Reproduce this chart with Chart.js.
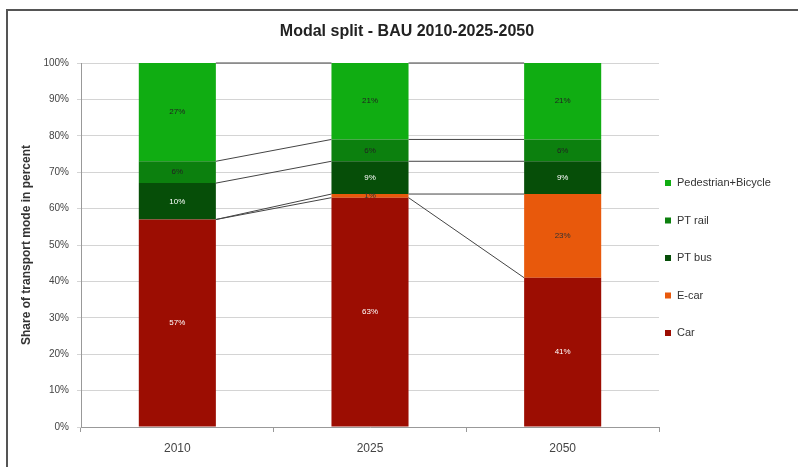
<!DOCTYPE html>
<html>
<head>
<meta charset="utf-8">
<script src="https://cdn.jsdelivr.net/npm/chart.js@4.4.1/dist/chart.umd.min.js"></script>
<style>
  html, body { margin: 0; padding: 0; background: #fff; }
  #wrap { width: 798px; height: 467px; position: relative; }
</style>
</head>
<body>
<div id="wrap"><canvas id="chart" width="798" height="467"></canvas></div>
<script>
// Data
const years = ["2010", "2025", "2050"];
const car = [57, 63, 41];
const eCar = [0, 1, 23];
const ptBus = [10, 9, 9];
const ptRail = [6, 6, 6];
const pedBike = [27, 21, 21];
const yTicks = [0, 10, 20, 30, 40, 50, 60, 70, 80, 90, 100];

const seriesNames = ["Car", "E-car", "PT bus", "PT rail", "Pedestrian+Bicycle"];
const seriesColors = ["#9c0d02", "#e8590c", "#064e08", "#0c800e", "#10ad12"];
const labelColors = ["#fff", "#333", "#fff", "#222", "#222"];

// Excel-style series lines between the stacked segments
const seriesLines = {
  id: "seriesLines",
  afterDatasetsDraw(chart) {
    const ctx = chart.ctx;
    ctx.save();
    ctx.strokeStyle = "#444";
    ctx.lineWidth = 1;
    chart.data.datasets.forEach((ds, i) => {
      const bars = chart.getDatasetMeta(i).data;
      for (let j = 0; j < bars.length - 1; j++) {
        const a = bars[j], b = bars[j + 1];
        ctx.beginPath();
        ctx.moveTo(a.x + a.width / 2, a.y);
        ctx.lineTo(b.x - b.width / 2, b.y);
        ctx.stroke();
      }
    });
    ctx.restore();
  }
};

// value labels inside the segments
const valueLabels = {
  id: "valueLabels",
  afterDatasetsDraw(chart) {
    const ctx = chart.ctx;
    ctx.save();
    ctx.font = "8px 'Liberation Sans', Arial, sans-serif";
    ctx.textAlign = "center";
    ctx.textBaseline = "middle";
    chart.data.datasets.forEach((ds, i) => {
      chart.getDatasetMeta(i).data.forEach((bar, j) => {
        const v = ds.data[j];
        if (!v) return;
        ctx.fillStyle = labelColors[i];
        ctx.fillText(v + "%", bar.x, (bar.y + bar.base) / 2);
      });
    });
    ctx.restore();
  }
};

// frame, title and legend
const decorations = {
  id: "decorations",
  beforeDraw(chart) {
    const ctx = chart.ctx;
    ctx.save();
    ctx.strokeStyle = "#555";
    ctx.lineWidth = 2;
    ctx.beginPath();
    ctx.moveTo(7, 467);
    ctx.lineTo(7, 10);
    ctx.lineTo(798, 10);
    ctx.stroke();
    ctx.restore();
  },
  afterDraw(chart) {
    const ctx = chart.ctx;
    ctx.save();
    ctx.fillStyle = "#222";
    ctx.font = "bold 16px 'Liberation Sans', Arial, sans-serif";
    ctx.textAlign = "center";
    ctx.textBaseline = "middle";
    ctx.fillText("Modal split - BAU 2010-2025-2050", 407, 32);

    ctx.font = "11px 'Liberation Sans', Arial, sans-serif";
    ctx.textAlign = "left";
    const n = chart.data.datasets.length;
    for (let k = 0; k < n; k++) {
      const i = n - 1 - k;
      const y = 183 + k * 37.5;
      ctx.fillStyle = seriesColors[i];
      ctx.fillRect(665, y - 3, 6, 6);
      ctx.fillStyle = "#333";
      ctx.fillText(chart.data.datasets[i].label, 677, y);
    }
    ctx.restore();
  }
};

const values = [car, eCar, ptBus, ptRail, pedBike];

new Chart(document.getElementById("chart"), {
  type: "bar",
  data: {
    labels: years,
    datasets: values.map((d, i) => ({
      label: seriesNames[i],
      data: d,
      backgroundColor: seriesColors[i],
      borderWidth: 0,
      barPercentage: 0.4,
      categoryPercentage: 1
    }))
  },
  options: {
    responsive: false,
    animation: false,
    layout: { padding: { left: 7, right: 139, top: 63, bottom: 0 } },
    plugins: {
      legend: { display: false },
      title: { display: false },
      tooltip: { enabled: false }
    },
    scales: {
      x: {
        stacked: true,
        afterFit: (s) => { s.height = 40; },
        grid: { display: true, drawOnChartArea: false, tickLength: 5, color: "#999" },
        border: { color: "#999" },
        ticks: { color: "#444", padding: 9, font: { size: 12, family: "'Liberation Sans', Arial, sans-serif" } }
      },
      y: {
        stacked: true,
        min: 0,
        max: 100,
        afterFit: (s) => { s.width = 74; },
        afterBuildTicks: (s) => { s.ticks = yTicks.map(v => ({ value: v })); },
        grid: { color: "#d4d4d4", tickLength: 4 },
        border: { color: "#999" },
        ticks: {
          color: "#444",
          padding: 8,
          font: { size: 10, family: "'Liberation Sans', Arial, sans-serif" },
          callback: (v) => v + "%"
        },
        title: {
          display: true,
          text: "Share of transport mode in percent",
          color: "#333",
          padding: { top: 12, bottom: 0 },
          font: { size: 12, weight: "bold", family: "'Liberation Sans', Arial, sans-serif" }
        }
      }
    }
  },
  plugins: [seriesLines, valueLabels, decorations]
});
</script>
</body>
</html>
